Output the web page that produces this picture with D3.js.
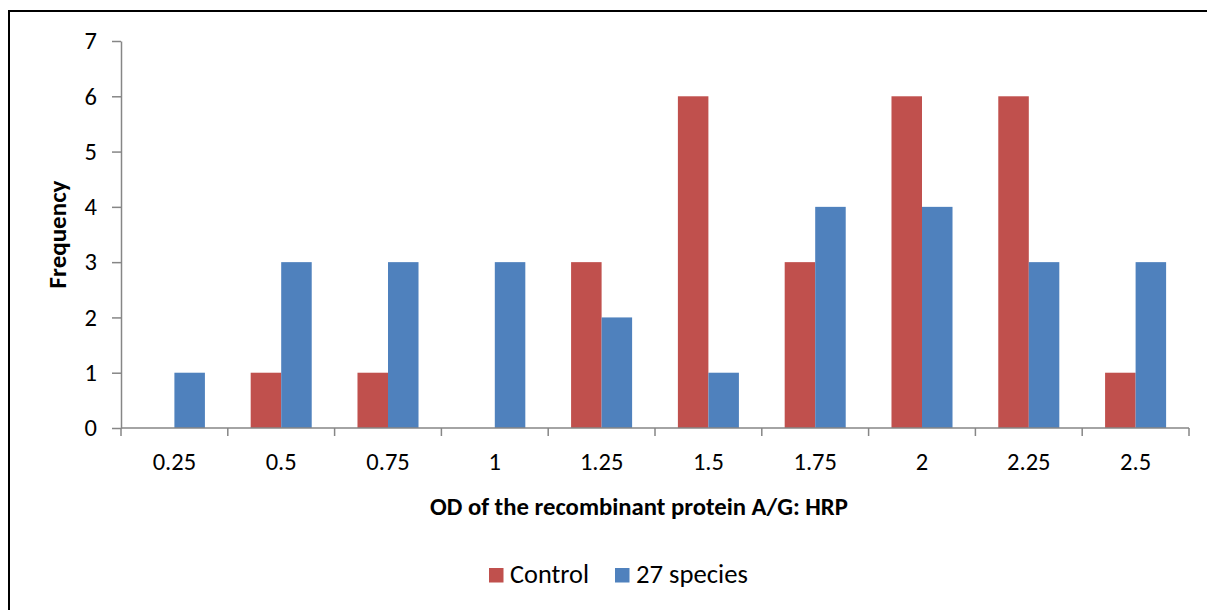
<!DOCTYPE html>
<html>
<head>
<meta charset="utf-8">
<script src="https://cdn.jsdelivr.net/npm/d3@7"></script>
<style>
  html, body { margin: 0; padding: 0; background: #fff; }
  svg { display: block; font-family: Carlito, Calibri, Lato, sans-serif; }
</style>
</head>
<body>
<svg id="chart" width="1207" height="610"></svg>
<script>
// Frequency of OD values for the recombinant protein A/G: HRP
const categories = ["0.25", "0.5", "0.75", "1", "1.25", "1.5", "1.75", "2", "2.25", "2.5"];
const seriesNames = ["Control", "27 species"];
const controlValues = [0, 1, 1, 0, 3, 6, 3, 6, 6, 1];
const speciesValues = [1, 3, 3, 3, 2, 1, 4, 4, 3, 3];
const yTicks = [0, 1, 2, 3, 4, 5, 6, 7];
const colors = ["#C0504D", "#4F81BD"];

const svg = d3.select("#chart");
const plotLeft = 121, plotRight = 1189, plotTop = 41, plotBottom = 428;

// scale a text element's font so it spans the given width
function fitWidth(sel, width) {
  sel.each(function () {
    const fs = parseFloat(this.getAttribute("font-size"));
    const w = this.getComputedTextLength();
    if (w > 0) this.setAttribute("font-size", (fs * width / w).toFixed(2));
  });
}

// outer frame
svg.append("rect")
  .attr("x", 9).attr("y", 11)
  .attr("width", 1220).attr("height", 640)
  .attr("fill", "none").attr("stroke", "#000").attr("stroke-width", 2);

const x0 = d3.scaleBand().domain(categories).range([plotLeft, plotRight]).paddingInner(0).paddingOuter(0);
// gap between groups equals 1.5 bar widths (half on each side)
const x1 = d3.scaleBand().domain(seriesNames)
  .range([x0.bandwidth() * 0.75 / 3.5, x0.bandwidth() * (1 - 0.75 / 3.5)]);
const y = d3.scaleLinear().domain([0, 7]).range([plotBottom, plotTop]);

const data = categories.map((c, i) => ({ cat: c, vals: [controlValues[i], speciesValues[i]] }));

// bars
const groups = svg.append("g").selectAll("g").data(data).join("g")
  .attr("transform", d => `translate(${x0(d.cat)},0)`);
groups.selectAll("rect")
  .data(d => d.vals.map((v, k) => ({ name: seriesNames[k], v, k })))
  .join("rect")
  .attr("x", d => x1(d.name))
  .attr("width", x1.bandwidth())
  .attr("y", d => y(d.v))
  .attr("height", d => plotBottom - y(d.v))
  .attr("fill", d => colors[d.k]);

const axisColor = "#868686";
const tickFont = 24.5;

// y axis
const yAxis = svg.append("g")
  .attr("transform", `translate(${plotLeft},0)`)
  .call(d3.axisLeft(y).tickValues(yTicks).tickFormat(d3.format("d")).tickSize(9).tickSizeOuter(0).tickPadding(15));
yAxis.select(".domain").attr("stroke", axisColor).attr("stroke-width", 1.5);
yAxis.selectAll(".tick line").attr("stroke", axisColor).attr("stroke-width", 1.5);
yAxis.selectAll(".tick text").attr("fill", "#000").attr("font-size", tickFont)
  .attr("font-family", "Carlito, Calibri, Lato, sans-serif");

// x axis: ticks sit at category boundaries
const xAxisG = svg.append("g").attr("transform", `translate(0,${plotBottom})`);
xAxisG.append("line")
  .attr("x1", plotLeft).attr("x2", plotRight).attr("y1", 0).attr("y2", 0)
  .attr("stroke", axisColor).attr("stroke-width", 1.5);
const boundaries = categories.map(c => x0(c)).concat([x0(categories[categories.length - 1]) + x0.bandwidth()]);
xAxisG.selectAll("line.tk").data(boundaries).join("line")
  .attr("class", "tk")
  .attr("x1", d => d).attr("x2", d => d).attr("y1", 0).attr("y2", 8)
  .attr("stroke", axisColor).attr("stroke-width", 1.5);
xAxisG.selectAll("text").data(categories).join("text")
  .attr("x", d => x0(d) + x0.bandwidth() / 2)
  .attr("y", 42)
  .attr("text-anchor", "middle")
  .attr("font-size", tickFont)
  .text(d => d);

// axis titles
svg.append("text")
  .attr("x", 639).attr("y", 515)
  .attr("text-anchor", "middle")
  .attr("font-size", 21).attr("font-weight", "bold")
  .text("OD of the recombinant protein A/G: HRP")
  .call(fitWidth, 418);
svg.append("text")
  .attr("transform", `translate(66,${(plotTop + plotBottom) / 2}) rotate(-90)`)
  .attr("text-anchor", "middle")
  .attr("font-size", 21).attr("font-weight", "bold")
  .text("Frequency")
  .call(fitWidth, 108);

// legend
const legendItems = [
  { name: seriesNames[0], color: colors[0], x: 489, w: 79 },
  { name: seriesNames[1], color: colors[1], x: 615, w: 112 }
];
const lg = svg.append("g").selectAll("g").data(legendItems).join("g")
  .attr("transform", d => `translate(${d.x},568)`);
lg.append("rect").attr("width", 14.5).attr("height", 14.5).attr("fill", d => d.color);
lg.append("text").attr("x", 21).attr("y", 15).attr("font-size", 25)
  .text(d => d.name)
  .each(function (d) { d3.select(this).call(fitWidth, d.w); });
</script>
</body>
</html>
